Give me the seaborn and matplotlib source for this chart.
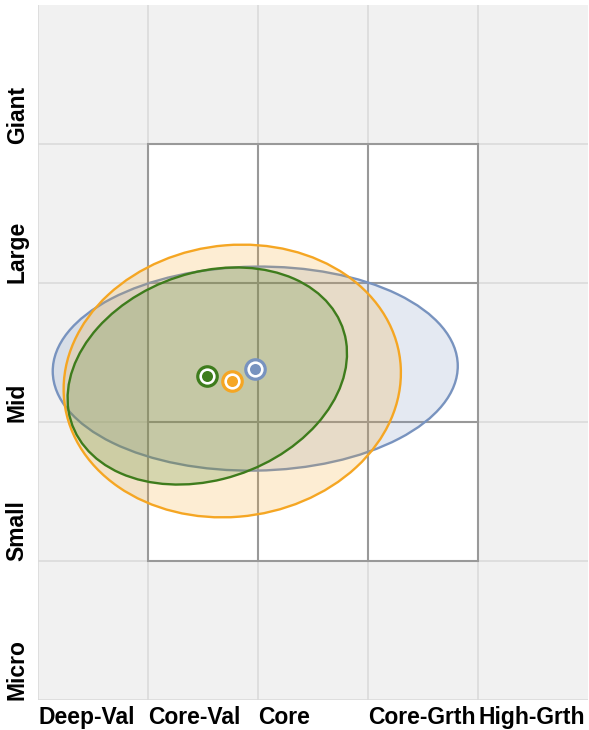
import numpy as np
import pandas as pd
import matplotlib.pyplot as plt
import seaborn as sns
from matplotlib.patches import Ellipse, Rectangle
from matplotlib.colors import to_rgba

style_labels = ['Deep-Val', 'Core-Val', 'Core', 'Core-Grth', 'High-Grth']
size_labels = ['Micro', 'Small', 'Mid', 'Large', 'Giant']

# fund centroids and spread (style / size units)
funds = ['Fund A', 'Fund B', 'Fund C']
colors = ['#7893bf', '#f5a623', '#3e7c1c']
center_x = [1.975, 1.766, 1.539]
center_y = [2.384, 2.295, 2.331]
spread_x = [1.841, 1.533, 1.270]
spread_y = [0.734, 0.981, 0.781]
corr = [0.025, 0.06, 0.208]

df = pd.DataFrame({'fund': funds, 'x': center_x, 'y': center_y,
                   'sx': spread_x, 'sy': spread_y, 'r': corr, 'color': colors})

sns.set_style('white')
plt.rcParams['font.family'] = ['Liberation Sans', 'DejaVu Sans']

fig = plt.figure(figsize=(5.89, 7.30), dpi=100)
ax = fig.add_axes([38/589, 30/730, 550/589, 695/730])
ax.set_facecolor('#f1f1f1')
ax.set_xlim(0, 5)
ax.set_ylim(0, 5)
for s in ax.spines.values():
    s.set_visible(False)

ax.set_xticks(range(5), style_labels)
ax.set_yticks(range(5), size_labels)
ax.grid(True, color='#d9d9d9', lw=1.1)
ax.set_axisbelow(True)
ax.tick_params(axis='x', length=0, pad=4, labelsize=16.5, labelcolor='black')
ax.tick_params(axis='y', length=0, pad=15, labelsize=16.5, labelcolor='black')
for lbl in ax.get_xticklabels():
    lbl.set_ha('left')
    lbl.set_fontweight('bold')
for lbl in ax.get_yticklabels():
    lbl.set_rotation(90)
    lbl.set_va('bottom')
    lbl.set_ha('center')
    lbl.set_fontweight('bold')

# style box
ax.add_patch(Rectangle((1, 1), 3, 3, fc='white', ec='#999999', lw=1.5, zorder=1))
for v in (2, 3):
    ax.plot([v, v], [1, 4], color='#999999', lw=1.5, zorder=1.1)
    ax.plot([1, 4], [v, v], color='#999999', lw=1.5, zorder=1.1)

# ownership zones
for i, row in df.iterrows():
    cov = np.array([[row.sx**2, row.r*row.sx*row.sy],
                    [row.r*row.sx*row.sy, row.sy**2]])
    vals, vecs = np.linalg.eigh(cov)
    ang = np.degrees(np.arctan2(vecs[1, 1], vecs[0, 1]))
    ax.add_patch(Ellipse((row.x, row.y), 2*np.sqrt(vals[1]), 2*np.sqrt(vals[0]),
                         angle=ang, fc=to_rgba(row.color, 0.2), ec=row.color,
                         lw=1.7, zorder=2 + i*0.1))

# centroids
for i in [2, 1, 0]:
    d = df.iloc[[i]]
    c = colors[i]
    sns.scatterplot(data=d, x='x', y='y', color=c, s=266, linewidth=0, ax=ax, zorder=5)
    sns.scatterplot(data=d, x='x', y='y', color='white', s=137, linewidth=0, ax=ax, zorder=5)
    sns.scatterplot(data=d, x='x', y='y', color=c, s=63, linewidth=0, ax=ax, zorder=5)

ax.set_xlabel('')
ax.set_ylabel('')
fig.savefig('out.png', dpi=100)
